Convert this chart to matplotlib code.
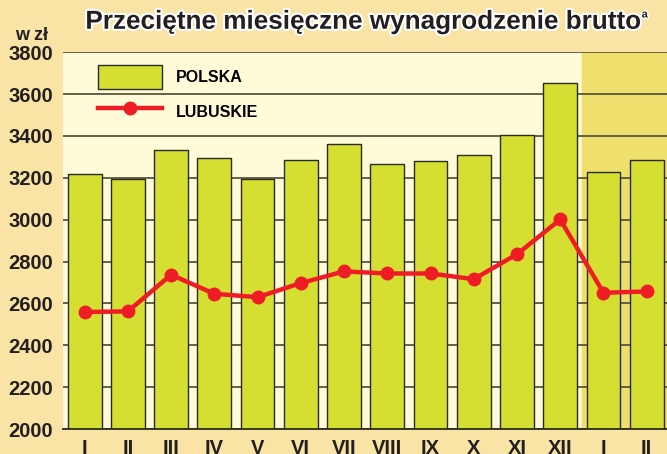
import matplotlib.pyplot as plt
import matplotlib.patheffects as pe
from matplotlib.patches import Patch
from matplotlib.lines import Line2D

months = ["I", "II", "III", "IV", "V", "VI", "VII", "VIII", "IX", "X", "XI", "XII", "I", "II"]
polska = [3216, 3194, 3332, 3295, 3194, 3287, 3362, 3268, 3282, 3311, 3403, 3651, 3230, 3287]
lubuskie = [2559, 2562, 2737, 2646, 2630, 2697, 2753, 2743, 2743, 2716, 2835, 3001, 2651, 2657]

plt.rcParams["font.family"] = ["Liberation Sans", "DejaVu Sans"]
narrow = ["Liberation Sans Narrow", "Liberation Sans", "DejaVu Sans"]

fig = plt.figure(figsize=(6.67, 4.54), dpi=100, facecolor="#F9E3A5")
ax = fig.add_axes([0.0945, 0.055, 0.9055, 0.83])
ax.set_facecolor("#FFFAD8")

x = list(range(len(months)))

# shaded region for the next year's months
ax.axvspan(11.5, 13.6, color="#EFDF6C", zorder=0)

ax.set_ylim(2000, 3800)
ax.set_xlim(-0.5, 13.47)
ax.set_yticks(range(2000, 3801, 200))
ax.grid(axis="y", color="#57553E", linewidth=1.3, zorder=1)
ax.set_axisbelow(True)

ax.bar(x, polska, width=0.78, color="#D5DF31", edgecolor="#2A2A18",
       linewidth=1.0, zorder=2)
ax.plot(x, lubuskie, color="#EE1D25", linewidth=3.2, marker="o",
        markersize=9, zorder=3)

for s in ["left", "right", "top"]:
    ax.spines[s].set_visible(False)
ax.spines["bottom"].set_color("#2A2A18")
ax.spines["bottom"].set_linewidth(1.3)

ax.set_xticks(x)
ax.set_xticklabels(months)
ax.tick_params(axis="both", length=0, colors="#231F20")
ax.tick_params(axis="x", pad=7)
ax.tick_params(axis="y", pad=7)
for lab in ax.get_xticklabels() + ax.get_yticklabels():
    lab.set_fontweight("bold")
    lab.set_family(narrow)
    lab.set_fontsize(14.5)

handles = [
    Patch(facecolor="#D5DF31", edgecolor="#2A2A18", linewidth=1.0),
    Line2D([0], [0], color="#EE1D25", linewidth=3.2, marker="o", markersize=9),
]
leg = ax.legend(handles, ["POLSKA", "LUBUSKIE"], loc="upper left",
                bbox_to_anchor=(0.034, 1.005), frameon=False, handlelength=4.0,
                handleheight=2.0, labelspacing=0.65, handletextpad=0.9,
                prop={"weight": "bold", "size": 11.5})

title = fig.text(0.128, 0.952, "Przeciętne miesięczne wynagrodzenie brutto",
                 ha="left", va="center", fontsize=18.8, fontweight="bold",
                 color="#231F20")
title.set_path_effects([pe.withStroke(linewidth=3, foreground="white")])
sup = fig.text(0.962, 0.968, "a", ha="left", va="center", fontsize=8,
               fontweight="bold", color="#231F20")
sup.set_path_effects([pe.withStroke(linewidth=2, foreground="white")])

fig.text(0.048, 0.922, "w zł", ha="center", va="center", fontsize=13,
         fontweight="bold", color="#231F20")

fig.savefig("out.png", dpi=100, facecolor=fig.get_facecolor())
